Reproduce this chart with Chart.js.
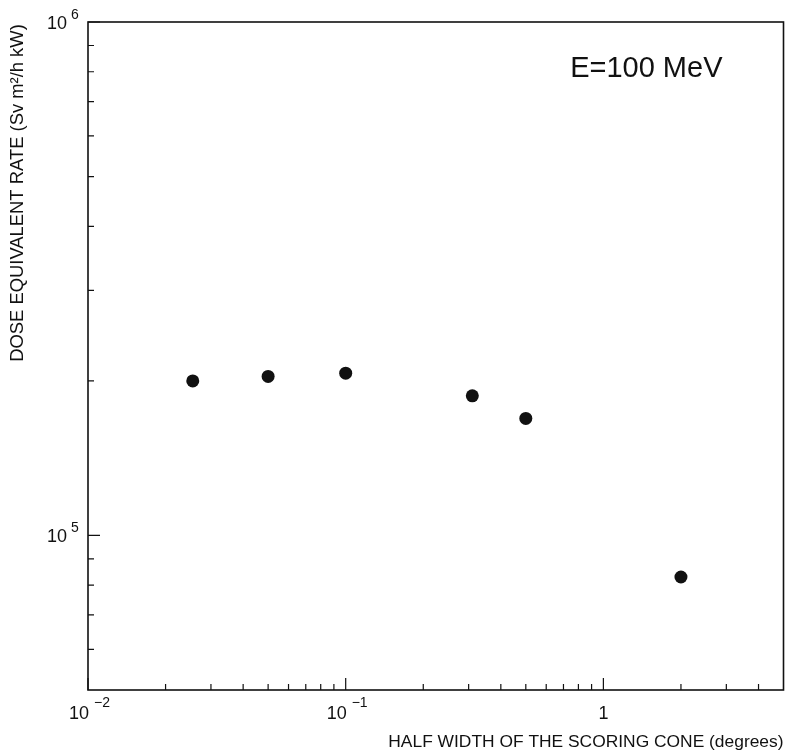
<!DOCTYPE html>
<html>
<head>
<meta charset="utf-8">
<script src="https://cdn.jsdelivr.net/npm/chart.js@4.4.1/dist/chart.umd.min.js"></script>
<style>
  html, body { margin: 0; padding: 0; background: #fff; overflow: hidden; }
  #wrap { width: 787px; height: 756px; position: relative; overflow: hidden; }
</style>
</head>
<body>
<div id="wrap"><canvas id="doseChart" width="790" height="756"></canvas></div>
<script>
// Data (half width in degrees, dose equivalent rate in Sv m^2/h kW)
const halfWidth = [0.0255, 0.05, 0.1, 0.31, 0.5, 2.0];
const doseRate = [2.0e5, 2.04e5, 2.07e5, 1.87e5, 1.69e5, 8.3e4];

// Axis ticks
const xMajorTicks = [0.01, 0.1, 1];
const xMinorTicks = [0.02, 0.03, 0.04, 0.05, 0.06, 0.07, 0.08, 0.09,
                     0.2, 0.3, 0.4, 0.5, 0.6, 0.7, 0.8, 0.9, 2, 3, 4];
const yMajorTicks = [1e5, 1e6];
const yMinorTicks = [6e4, 7e4, 8e4, 9e4, 2e5, 3e5, 4e5, 5e5, 6e5, 7e5, 8e5, 9e5];

// Tick labels: base and exponent
const xTickBase = ['10', '10', '1'];
const xTickExp = ['-2', '-1', ''];
const yTickBase = ['10', '10'];
const yTickExp = ['5', '6'];

const xTitle = 'HALF WIDTH OF THE SCORING CONE (degrees)';
const yTitle = 'DOSE EQUIVALENT RATE (Sv m\u00B2/h kW)';
const energyLabel = 'E=100 MeV';

const FONT = "'Liberation Sans', 'DejaVu Sans', sans-serif";
const INK = '#111';

// Draws the frame, inward ticks, labels and titles
const plotDecor = {
  id: 'plotDecor',
  afterDraw(chart) {
    const ctx = chart.ctx;
    const xs = chart.scales.x;
    const ys = chart.scales.y;
    const area = chart.chartArea;
    ctx.save();
    ctx.strokeStyle = INK;
    ctx.fillStyle = INK;

    // frame
    ctx.lineWidth = 1.6;
    ctx.strokeRect(area.left, area.top, area.right - area.left, area.bottom - area.top);

    // ticks
    ctx.lineWidth = 1.2;
    ctx.beginPath();
    xMajorTicks.forEach(v => {
      const px = xs.getPixelForValue(v);
      ctx.moveTo(px, area.bottom); ctx.lineTo(px, area.bottom - 12);
    });
    xMinorTicks.forEach(v => {
      const px = xs.getPixelForValue(v);
      ctx.moveTo(px, area.bottom); ctx.lineTo(px, area.bottom - 6);
    });
    yMajorTicks.forEach(v => {
      const py = ys.getPixelForValue(v);
      ctx.moveTo(area.left, py); ctx.lineTo(area.left + 12, py);
    });
    yMinorTicks.forEach(v => {
      const py = ys.getPixelForValue(v);
      ctx.moveTo(area.left, py); ctx.lineTo(area.left + 6, py);
    });
    ctx.stroke();

    // x tick labels
    ctx.textBaseline = 'middle';
    xMajorTicks.forEach((v, i) => {
      const px = xs.getPixelForValue(v);
      ctx.font = '18px ' + FONT;
      const bw = ctx.measureText(xTickBase[i]).width;
      const left = xTickExp[i] ? px - bw + 1 : px - bw / 2;
      ctx.textAlign = 'left';
      ctx.fillText(xTickBase[i], left, area.bottom + 24);
      if (xTickExp[i]) {
        ctx.font = '14px ' + FONT;
        ctx.fillText(xTickExp[i].replace('-', '\u2212'), left + bw + 5, area.bottom + 13);
      }
    });

    // y tick labels
    yMajorTicks.forEach((v, i) => {
      const py = ys.getPixelForValue(v);
      ctx.font = '18px ' + FONT;
      ctx.textAlign = 'right';
      ctx.fillText(yTickBase[i], area.left - 21, py + 2);
      ctx.font = '14px ' + FONT;
      ctx.textAlign = 'left';
      ctx.fillText(yTickExp[i], area.left - 17, py - 7);
    });

    // axis titles
    ctx.font = '17.4px ' + FONT;
    ctx.textAlign = 'right';
    ctx.fillText(xTitle, area.right, area.bottom + 52);

    ctx.save();
    ctx.translate(18, 193);
    ctx.rotate(-Math.PI / 2);
    ctx.textAlign = 'center';
    ctx.font = '18.4px ' + FONT;
    ctx.fillText(yTitle, 0, 0);
    ctx.restore();

    // energy label
    ctx.font = '29px ' + FONT;
    ctx.textAlign = 'right';
    ctx.fillText(energyLabel, area.right - 61, area.top + 47);

    ctx.restore();
  }
};

const points = halfWidth.map((x, i) => ({ x: x, y: doseRate[i] }));

new Chart(document.getElementById('doseChart'), {
  type: 'scatter',
  data: {
    datasets: [{
      data: points,
      pointRadius: 6.5,
      pointHoverRadius: 6.5,
      pointBackgroundColor: INK,
      pointBorderColor: INK,
      pointBorderWidth: 0,
      showLine: false
    }]
  },
  options: {
    responsive: false,
    animation: false,
    events: [],
    layout: { padding: { left: 88, right: 1, top: 22, bottom: 66 } },
    plugins: {
      legend: { display: false },
      tooltip: { enabled: false }
    },
    scales: {
      x: {
        type: 'logarithmic',
        min: 0.01,
        max: 5,
        afterBuildTicks: axis => { axis.ticks = xMajorTicks.map(v => ({ value: v })); },
        ticks: { display: false },
        grid: { display: false, drawTicks: false },
        border: { display: false }
      },
      y: {
        type: 'logarithmic',
        min: 5e4,
        max: 1e6,
        afterBuildTicks: axis => { axis.ticks = yMajorTicks.map(v => ({ value: v })); },
        ticks: { display: false },
        grid: { display: false, drawTicks: false },
        border: { display: false }
      }
    }
  },
  plugins: [plotDecor]
});
</script>
</body>
</html>
